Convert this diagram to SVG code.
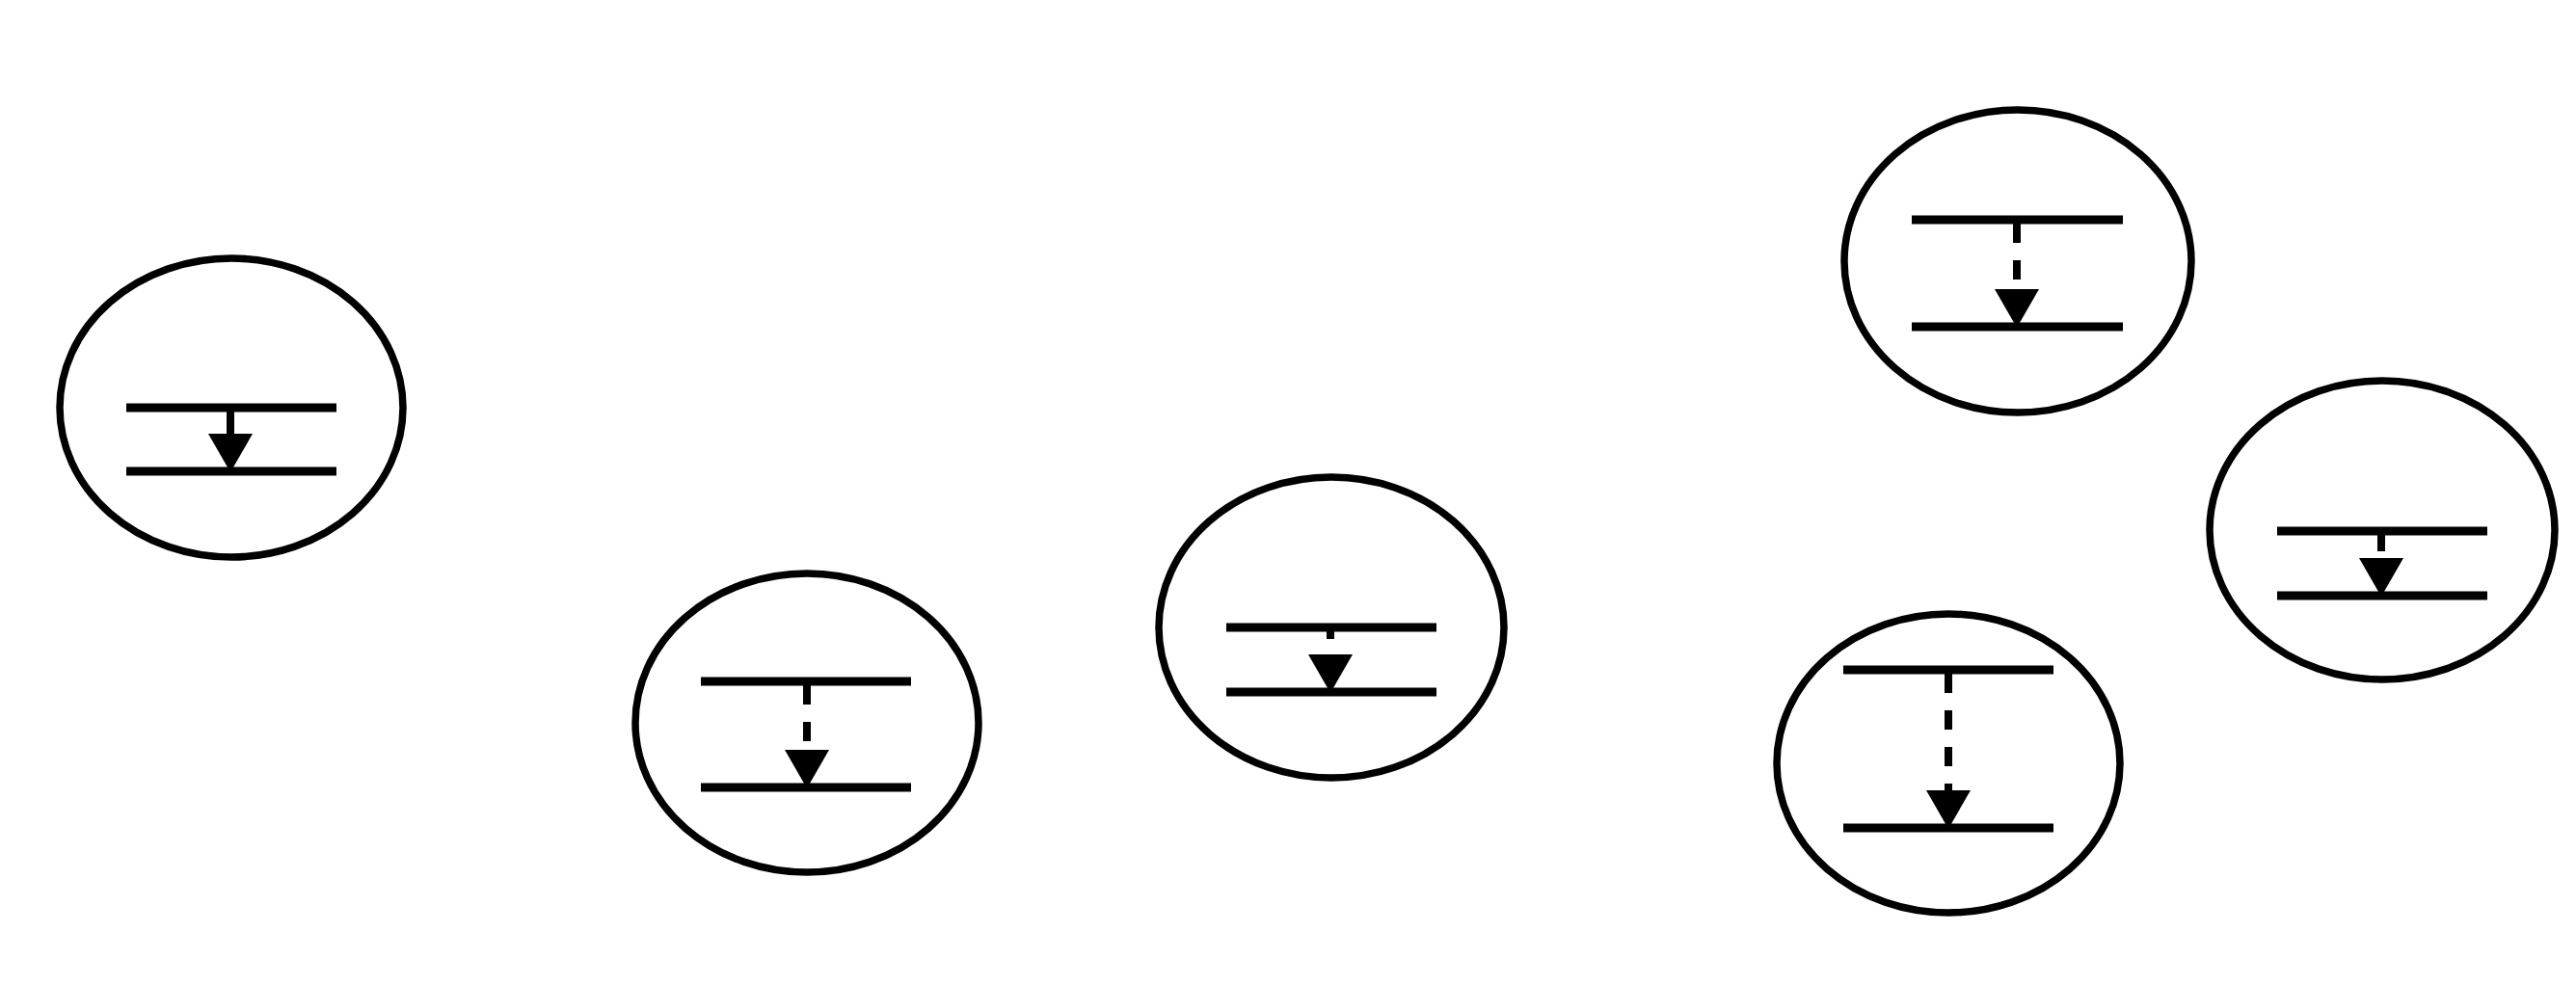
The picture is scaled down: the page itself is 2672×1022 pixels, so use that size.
<svg xmlns="http://www.w3.org/2000/svg" xmlns:xlink="http://www.w3.org/1999/xlink" width="2672" height="1022" viewBox="0 0 2672 1022">
  <style>
    .bubble { fill: none; stroke: #000; stroke-width: 7.5; }
    .level { stroke: #000; stroke-width: 9; stroke-linecap: butt; }
    .shaft { stroke: #000; stroke-width: 8; stroke-dasharray: 20 18; fill: none; }
    .solid { stroke-dasharray: none; }
    .head { fill: #000; stroke: none; }
  </style>
  <defs>
    <path id="head" d="M-23,0 L23,0 L0,40 Z"/>
  </defs>
  <rect width="2672" height="1022" fill="#fff"/>

  <g id="node1">
    <ellipse class="bubble" cx="240" cy="423" rx="178" ry="155"/>
    <line class="level" x1="131" y1="423" x2="349" y2="423"/>
    <line class="level" x1="131" y1="489" x2="349" y2="489"/>
    <line class="shaft solid" x1="239" y1="427" x2="239" y2="451"/>
    <use class="head" href="#head" xlink:href="#head" x="239" y="450"/>
  </g>

  <g id="node2">
    <ellipse class="bubble" cx="837" cy="750" rx="178" ry="155"/>
    <line class="level" x1="727" y1="707" x2="945" y2="707"/>
    <line class="level" x1="727" y1="817" x2="945" y2="817"/>
    <line class="shaft" x1="837" y1="711" x2="837" y2="779"/>
    <use class="head" href="#head" xlink:href="#head" x="837" y="778"/>
  </g>

  <g id="node3">
    <ellipse class="bubble" cx="1381" cy="651" rx="179" ry="156"/>
    <line class="level" x1="1272" y1="651" x2="1490" y2="651"/>
    <line class="level" x1="1272" y1="718" x2="1490" y2="718"/>
    <line class="shaft" x1="1380" y1="655" x2="1380" y2="663"/>
    <use class="head" href="#head" xlink:href="#head" x="1380" y="679"/>
  </g>

  <g id="node4">
    <ellipse class="bubble" cx="2093" cy="271" rx="180" ry="157"/>
    <line class="level" x1="1983" y1="228" x2="2202" y2="228"/>
    <line class="level" x1="1983" y1="339" x2="2202" y2="339"/>
    <line class="shaft" x1="2092" y1="232" x2="2092" y2="301"/>
    <use class="head" href="#head" xlink:href="#head" x="2092" y="300"/>
  </g>

  <g id="node5">
    <ellipse class="bubble" cx="2471" cy="550" rx="179" ry="155"/>
    <line class="level" x1="2362" y1="551" x2="2580" y2="551"/>
    <line class="level" x1="2362" y1="618" x2="2580" y2="618"/>
    <line class="shaft" x1="2470" y1="555" x2="2470" y2="572"/>
    <use class="head" href="#head" xlink:href="#head" x="2470" y="579"/>
  </g>

  <g id="node6">
    <ellipse class="bubble" cx="2021" cy="792" rx="178" ry="155"/>
    <line class="level" x1="1912" y1="695" x2="2130" y2="695"/>
    <line class="level" x1="1912" y1="859" x2="2130" y2="859"/>
    <line class="shaft" x1="2021" y1="699" x2="2021" y2="821"/>
    <use class="head" href="#head" xlink:href="#head" x="2021" y="820"/>
  </g>

  <g id="connectors"/>
</svg>
